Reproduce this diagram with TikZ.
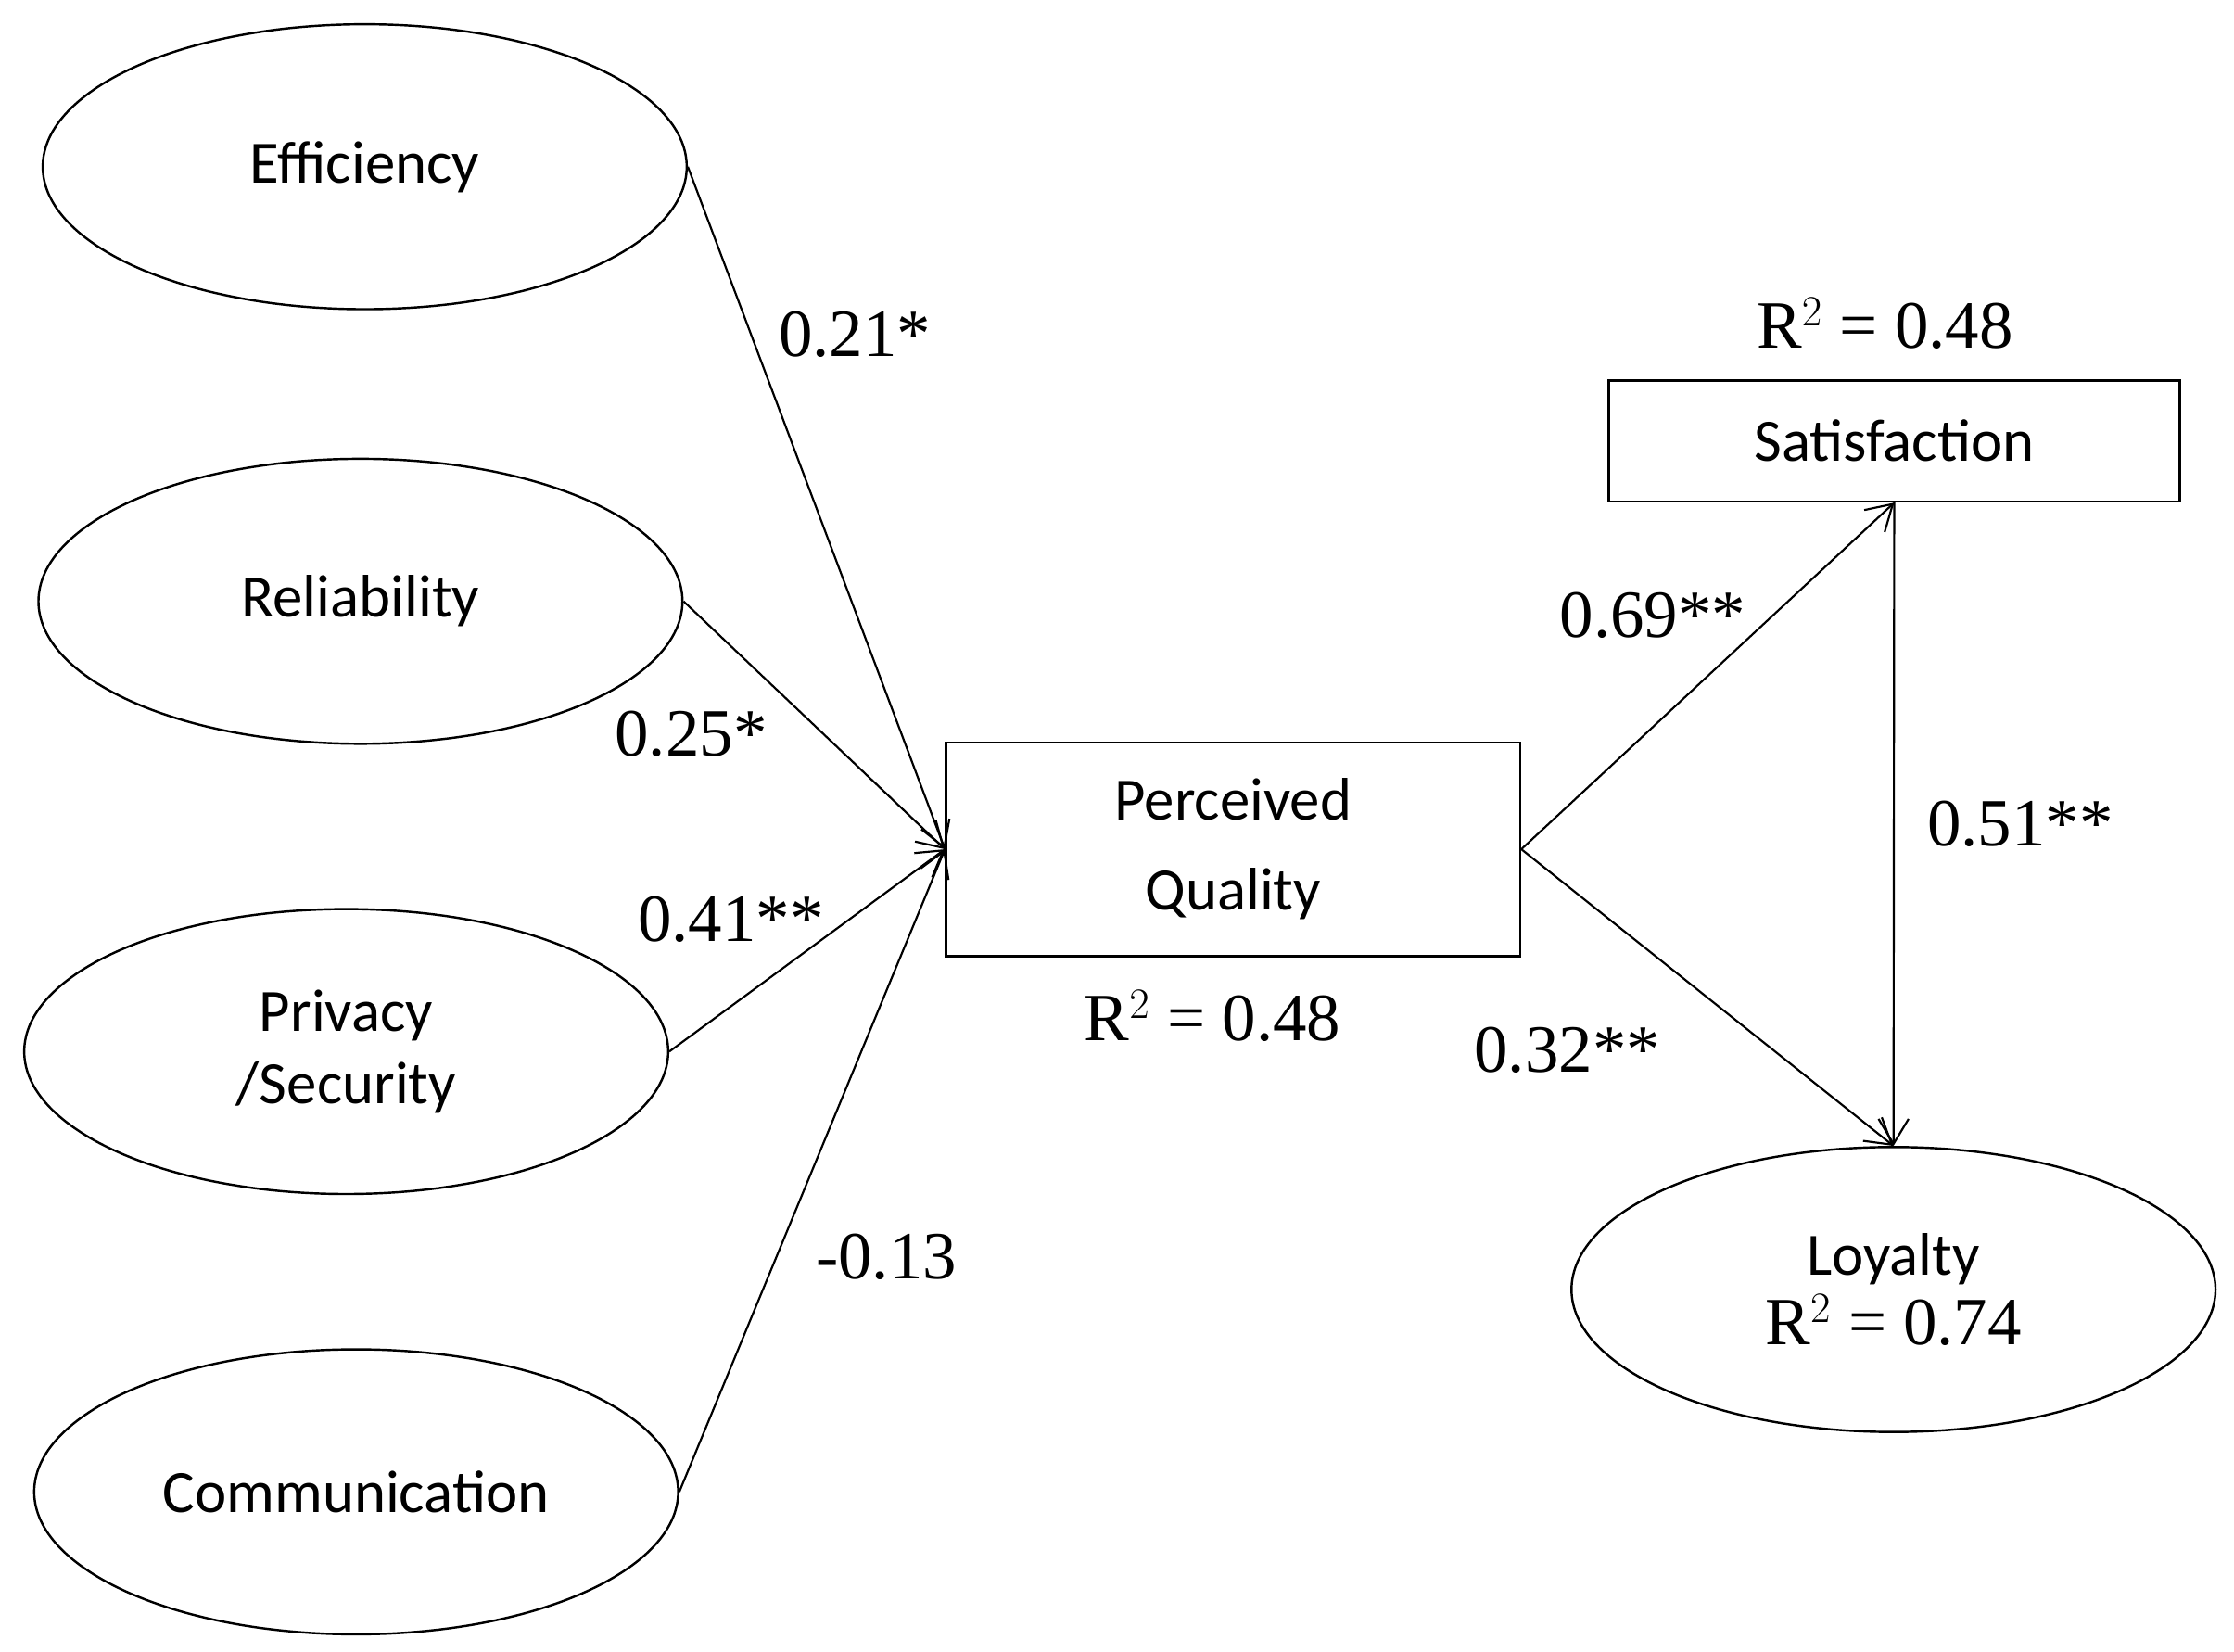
\documentclass[tikz,border=0pt]{standalone}
\usepackage{fontspec}
\setmainfont{Liberation Serif}
\newfontfamily\calfont{Carlito}
\usetikzlibrary{shapes.geometric,arrows.meta}
\begin{document}
\begin{tikzpicture}[x=0.02cm,y=-0.02cm,
  el/.style={draw,line width=0.9pt,ellipse,inner sep=0pt,minimum width=452*0.02cm,minimum height=200*0.02cm,font=\calfont\fontsize{24}{29}\selectfont,align=center},
  bx/.style={draw,line width=0.9pt,rectangle,inner sep=0pt,font=\calfont\fontsize{24}{36}\selectfont,align=center},
  num/.style={font=\fontsize{27}{30}\selectfont},
  ar/.style={line width=0.8pt,-{Straight Barb[length=10pt,width=12pt]}}]
\useasboundingbox (0,0) rectangle (1568,1159);
\node[el] (eff) at (256,117) {Efficiency};
\node[el] (rel) at (253,422) {Reliability};
\node[el] (pri) at (243,738) {Privacy\\/Security};
\node[el] (com) at (250,1047) {Communication};
\node[bx,minimum width=403*0.02cm,minimum height=150*0.02cm] (pq) at (865.5,596) {Perceived\\Quality};
\node[bx,minimum width=401*0.02cm,minimum height=85*0.02cm] (sat) at (1329.5,309.5) {Satisfaction};
\node[el,font=\fontsize{24}{30}\selectfont] (loy) at (1329,905) {{\calfont Loyalty}\\[-2pt]{\fontsize{27}{30}\selectfont R$^{2}$ = 0.74}};
\draw[ar] (eff.east) -- (pq.west);
\draw[ar] (rel.east) -- (pq.west);
\draw[ar] (pri.east) -- (pq.west);
\draw[ar] (com.east) -- (pq.west);
\draw[ar] (pq.east) -- (sat.south);
\draw[ar] (pq.east) -- (loy.north);
\draw[ar] (sat.south) -- (loy.north);
\node[num] (l1) at (600,235) {0.21*};
\node[num] (l2) at (485,515) {0.25*};
\node[num] (l3) at (513,645) {0.41**};
\node[num] (l4) at (622,882) {-0.13};
\node[num] (l5) at (1160,432) {0.69**};
\node[num] (l6) at (1100,737) {0.32**};
\node[num] (l7) at (1418,578) {0.51**};
\node[num] (r1) at (1323,227) {R$^{2}$ = 0.48};
\node[num] (r2) at (851,713) {R$^{2}$ = 0.48};
\end{tikzpicture}
\end{document}
